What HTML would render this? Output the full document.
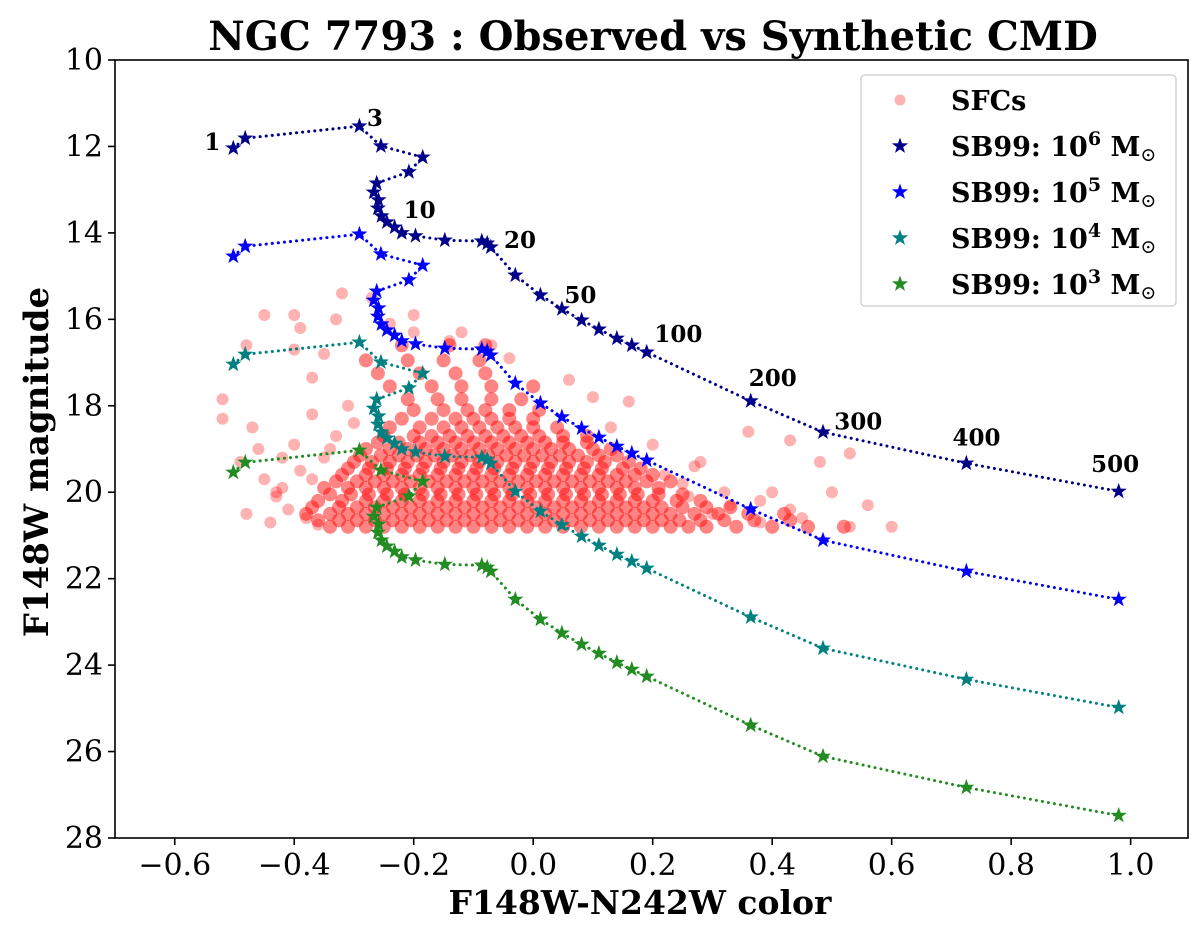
<!DOCTYPE html>
<html><head><meta charset="utf-8"><style>
body{margin:0;background:#fff;width:1200px;height:923px;overflow:hidden}
text{font-family:"DejaVu Serif","Liberation Serif",serif}
</style></head><body>
<svg id="chart" width="1200" height="923" xmlns="http://www.w3.org/2000/svg">
<text x="653" y="50" font-size="40" font-weight="bold" text-anchor="middle">NGC 7793 : Observed vs Synthetic CMD</text>
<g id="plot"></g>
<text x="640" y="914" font-size="33" font-weight="bold" text-anchor="middle">F148W-N242W color</text>
<text transform="translate(48,462) rotate(-90)" font-size="34" font-weight="bold" text-anchor="middle">F148W magnitude</text>
</svg>
<script>
const xTicks=[-0.6,-0.4,-0.2,0.0,0.2,0.4,0.6,0.8,1.0];
const xTickLabels=["\u22120.6","\u22120.4","\u22120.2","0.0","0.2","0.4","0.6","0.8","1.0"];
const yTicks=[10,12,14,16,18,20,22,24,26,28];
const trackColor=[-0.502,-0.482,-0.291,-0.255,-0.185,-0.208,-0.262,-0.267,-0.259,-0.260,-0.254,-0.245,-0.232,-0.220,-0.197,-0.148,-0.086,-0.077,-0.071,-0.030,0.012,0.048,0.081,0.110,0.140,0.165,0.190,0.364,0.485,0.725,0.980];
const mag1e6=[12.04,11.81,11.53,11.99,12.25,12.59,12.85,13.06,13.24,13.43,13.61,13.75,13.87,14.00,14.07,14.17,14.19,14.24,14.33,14.98,15.44,15.76,16.02,16.23,16.44,16.60,16.76,17.89,18.61,19.33,19.98];
const mag1e5=[14.54,14.31,14.03,14.49,14.75,15.09,15.35,15.56,15.74,15.93,16.11,16.25,16.37,16.50,16.57,16.67,16.69,16.74,16.83,17.48,17.94,18.26,18.52,18.73,18.94,19.10,19.26,20.39,21.11,21.83,22.48];
const mag1e4=[17.04,16.81,16.53,16.99,17.25,17.59,17.85,18.06,18.24,18.43,18.61,18.75,18.87,19.00,19.07,19.17,19.19,19.24,19.33,19.98,20.44,20.76,21.02,21.23,21.44,21.60,21.76,22.89,23.61,24.33,24.98];
const mag1e3=[19.54,19.31,19.03,19.49,19.75,20.09,20.35,20.56,20.74,20.93,21.11,21.25,21.37,21.50,21.57,21.67,21.69,21.74,21.83,22.48,22.94,23.26,23.52,23.73,23.94,24.10,24.26,25.39,26.11,26.83,27.48];
const ageLabels=["1","3","10","20","50","100","200","300","400","500"];
const ageLabelX=[-0.537,-0.265,-0.19,-0.022,0.079,0.243,0.401,0.544,0.742,0.974];
const ageLabelY=[11.9,11.34,13.47,14.17,15.44,16.34,17.36,18.36,18.73,19.35];
const sfcBands=[
[20.8,[-0.34,-0.31,-0.28,-0.25,-0.22,-0.19,-0.16,-0.13,-0.10,-0.07,-0.04,-0.01,0.02,0.05,0.08,0.11,0.14,0.17,0.20,0.23,0.26,0.29,0.34,0.40,0.46,0.52]],
[20.65,[-0.36,-0.325,-0.295,-0.265,-0.235,-0.205,-0.175,-0.145,-0.115,-0.085,-0.055,-0.025,0.005,0.035,0.065,0.095,0.125,0.155,0.185,0.215,0.245,0.28,0.32,0.37,0.43]],
[20.5,[-0.38,-0.34,-0.31,-0.28,-0.25,-0.22,-0.19,-0.16,-0.13,-0.10,-0.07,-0.04,-0.01,0.02,0.05,0.08,0.11,0.14,0.17,0.20,0.23,0.27,0.31,0.36,0.42]],
[20.35,[-0.37,-0.325,-0.295,-0.265,-0.235,-0.205,-0.175,-0.145,-0.115,-0.085,-0.055,-0.025,0.005,0.035,0.065,0.095,0.125,0.155,0.185,0.215,0.25,0.29,0.33]],
[20.2,[-0.36,-0.32,-0.28,-0.25,-0.22,-0.19,-0.16,-0.13,-0.10,-0.07,-0.04,-0.01,0.02,0.05,0.08,0.11,0.14,0.17,0.20,0.24,0.28]],
[20.05,[-0.34,-0.305,-0.275,-0.245,-0.215,-0.185,-0.155,-0.125,-0.095,-0.065,-0.035,-0.005,0.025,0.055,0.085,0.115,0.145,0.175,0.21,0.25]],
[19.9,[-0.35,-0.31,-0.28,-0.25,-0.22,-0.19,-0.16,-0.13,-0.10,-0.07,-0.04,-0.01,0.02,0.05,0.08,0.11,0.14,0.17,0.21]],
[19.75,[-0.33,-0.295,-0.265,-0.235,-0.205,-0.175,-0.145,-0.115,-0.085,-0.055,-0.025,0.005,0.035,0.065,0.095,0.125,0.155,0.19,0.23]],
[19.6,[-0.32,-0.28,-0.25,-0.22,-0.19,-0.16,-0.13,-0.10,-0.07,-0.04,-0.01,0.02,0.05,0.08,0.11,0.14,0.17,0.2]],
[19.45,[-0.31,-0.275,-0.245,-0.215,-0.185,-0.155,-0.125,-0.095,-0.065,-0.035,-0.005,0.025,0.055,0.085,0.115,0.15,0.18]],
[19.3,[-0.3,-0.27,-0.24,-0.21,-0.18,-0.15,-0.12,-0.09,-0.06,-0.03,0.0,0.03,0.06,0.09,0.12,0.16]],
[19.15,[-0.29,-0.255,-0.225,-0.195,-0.165,-0.135,-0.105,-0.075,-0.045,-0.015,0.015,0.045,0.075,0.11,0.14]],
[19.0,[-0.28,-0.24,-0.21,-0.18,-0.15,-0.12,-0.09,-0.06,-0.03,0.0,0.03,0.06,0.1,0.13]],
[18.85,[-0.26,-0.225,-0.19,-0.16,-0.13,-0.10,-0.07,-0.04,-0.01,0.02,0.05,0.09]],
[18.7,[-0.25,-0.2,-0.17,-0.14,-0.11,-0.08,-0.05,-0.02,0.01,0.05,0.09]],
[18.5,[-0.24,-0.19,-0.15,-0.12,-0.09,-0.06,-0.03,0.0,0.04]],
[18.3,[-0.22,-0.17,-0.13,-0.1,-0.07,-0.04,0.0]],
[18.1,[-0.2,-0.15,-0.11,-0.08,-0.04,0.01]],
[17.85,[-0.21,-0.16,-0.12,-0.07,-0.02]],
[17.55,[-0.24,-0.17,-0.12,-0.07,0.0]],
[17.25,[-0.26,-0.19,-0.13,-0.08]],
[16.95,[-0.28,-0.21,-0.15,-0.09]],
[16.6,[-0.22,-0.14,-0.08]]
];
const sfcOutColor=[-0.45,-0.40,-0.39,-0.48,-0.52,-0.52,-0.47,-0.49,-0.45,-0.48,-0.43,-0.40,-0.37,-0.35,-0.32,-0.33,-0.27,-0.24,-0.20,-0.14,-0.12,-0.07,-0.04,-0.20,0.06,0.10,0.16,0.13,0.20,0.28,0.36,0.43,0.48,0.50,0.53,0.53,0.60,0.56,0.43,0.40,0.38,0.33,0.30,0.26,-0.46,-0.42,-0.37,-0.44,-0.41,-0.38,-0.36,-0.42,-0.39,-0.35,-0.33,-0.40,-0.43,-0.37,-0.34,-0.30,-0.31,0.25,0.32,0.38,0.45,0.22,0.27];
const sfcOutMag=[15.9,15.9,16.2,16.6,17.85,18.3,18.5,19.3,19.7,20.5,20.0,16.7,17.35,16.8,15.4,16.0,15.5,16.1,16.3,16.5,16.3,16.6,16.9,15.9,17.4,17.8,17.9,18.5,18.9,19.3,18.6,18.8,19.3,20.0,20.8,19.1,20.8,20.3,20.4,20.0,20.2,20.3,20.5,20.1,19.0,19.2,18.2,20.7,20.4,20.6,20.75,19.9,19.5,19.2,18.7,18.9,20.1,19.7,19.0,18.4,18.0,19.8,20.0,20.7,20.6,19.6,19.4];

const NS="http://www.w3.org/2000/svg";
const L=115,T=60,R=1188,B=838,X0=-0.7,X1=1.096,Y0=10,Y1=28;
const sx=v=>L+(v-X0)/(X1-X0)*(R-L);
const sy=v=>T+(v-Y0)/(Y1-Y0)*(B-T);
const plot=document.getElementById('plot');
function mk(tag,attrs,parent){const e=document.createElementNS(NS,tag);for(const k in attrs)e.setAttribute(k,attrs[k]);(parent||plot).appendChild(e);return e;}
function starPath(cx,cy,r){let d="";for(let i=0;i<10;i++){const rr=i%2?r*0.4:r;const a=-Math.PI/2+i*Math.PI/5;d+=(i?"L":"M")+(cx+rr*Math.cos(a)).toFixed(1)+","+(cy+rr*Math.sin(a)).toFixed(1);}return d+"Z";}

const sfcG=mk('g',{});


sfcBands.forEach(b=>b[1].forEach(x=>{const c=mk('circle',{cx:sx(x),cy:sy(b[0]),r:7,fill:'#ff0000','fill-opacity':0.48},sfcG);

}));
sfcOutColor.forEach((x,i)=>{const c=mk('circle',{cx:sx(x),cy:sy(sfcOutMag[i]),r:6,fill:'#ff0000','fill-opacity':0.3},sfcG);

});

const tracks=[[mag1e6,'#00008b','sb99-1e6'],[mag1e5,'#0000ff','sb99-1e5'],[mag1e4,'#008080','sb99-1e4'],[mag1e3,'#228b22','sb99-1e3']];
tracks.forEach(t=>{
 const g=mk('g',{});
 
 
 const pts=trackColor.map((x,i)=>sx(x)+","+sy(t[0][i])).join(" ");
 const pl=mk('polyline',{points:pts,fill:'none',stroke:t[1],'stroke-width':3,'stroke-dasharray':'0.1,6','stroke-linecap':'round'},g);
 
 
 trackColor.forEach((x,i)=>{const s=mk('path',{d:starPath(sx(x),sy(t[0][i]),8.5),fill:t[1]},g);
 
 });
});
ageLabels.forEach((lab,i)=>{const e=mk('text',{x:sx(ageLabelX[i]),y:sy(ageLabelY[i])+8,'font-size':23,'font-weight':'bold','text-anchor':'middle'});e.textContent=lab;

});

const fr=mk('rect',{x:L,y:T,width:R-L,height:B-T,fill:'none',stroke:'#000','stroke-width':1.6});


xTicks.forEach((v,i)=>{mk('line',{x1:sx(v),x2:sx(v),y1:B,y2:B+7,stroke:'#000','stroke-width':1.6});
 const t=mk('text',{x:sx(v),y:B+37,'font-size':30,'text-anchor':'middle'});t.textContent=xTickLabels[i];
 
 });
yTicks.forEach(v=>{mk('line',{x1:L-7,x2:L,y1:sy(v),y2:sy(v),stroke:'#000','stroke-width':1.6});
 const t=mk('text',{x:L-12,y:sy(v)+10,'font-size':30,'text-anchor':'end'});t.textContent=v;
 
 });

const lg=mk('g',{});


mk('rect',{x:861,y:75,width:315,height:231,rx:4,fill:'#fff','fill-opacity':0.85,stroke:'#ccc','stroke-width':1.3},lg);
const legNames=["SFCs","SB99: 10","SB99: 10","SB99: 10","SB99: 10"];
const legExp=["","6","5","4","3"];
const legCol=['#ff0000','#00008b','#0000ff','#008080','#228b22'];
legNames.forEach((n,i)=>{const y=100+i*46;
 const eg=mk('g',{},lg);
 
 
 if(i==0)mk('circle',{cx:900,cy:y,r:5.5,fill:'#ff0000','fill-opacity':0.3},eg);
 else mk('path',{d:starPath(900,y,8.5),fill:legCol[i]},eg);
 const t=mk('text',{x:951,y:y+10,'font-size':27,'font-weight':'bold'},eg);
 if(i==0)t.textContent=n;
 else t.innerHTML=n+'<tspan dy="-11" font-size="19">'+legExp[i]+'</tspan><tspan dy="11"> M</tspan><tspan dy="5" font-size="19" font-weight="normal">\u2299</tspan>';
});
</script>
</body></html>
